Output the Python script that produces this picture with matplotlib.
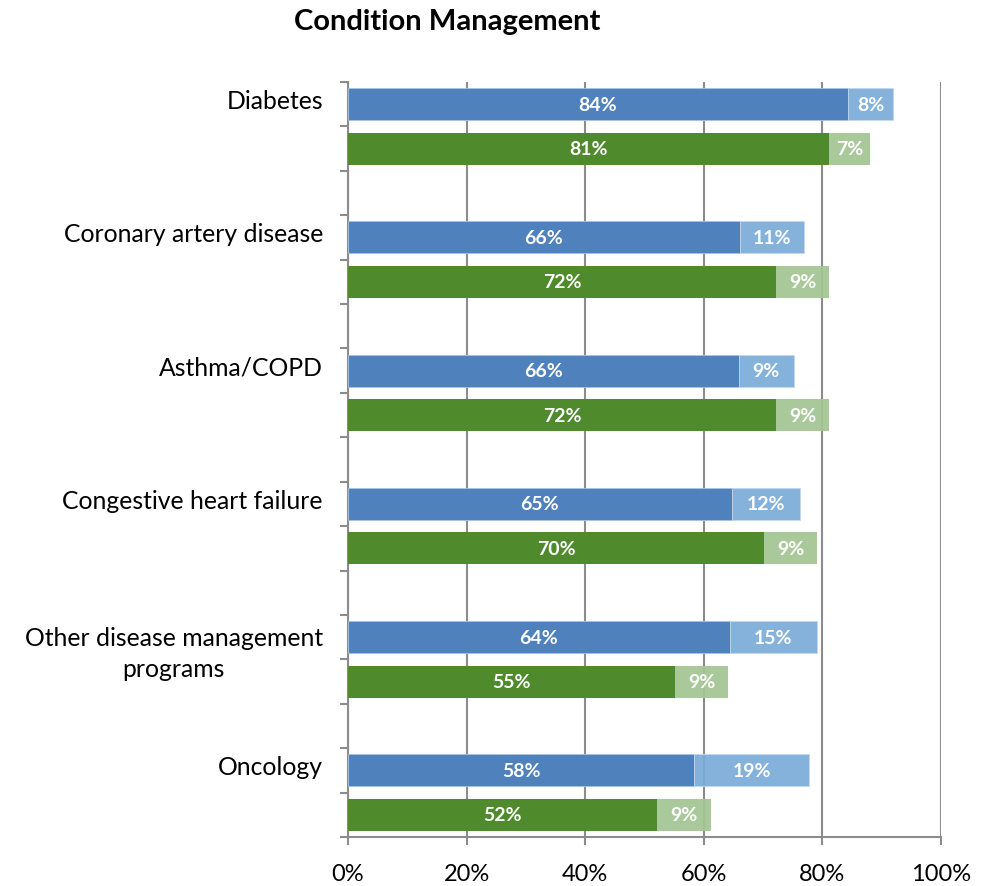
import numpy as np
import matplotlib
matplotlib.use('Agg')
import matplotlib.pyplot as plt

plt.rcParams['font.family'] = ['Lato', 'DejaVu Sans']

#--------------------------------------------------- data (percent)
categories = ['Diabetes', 'Coronary artery disease', 'Asthma/COPD',
              'Congestive heart failure', 'Other disease management\nprograms', 'Oncology']
blue_main  = [84.3, 66.1, 65.9, 64.7, 64.4, 58.4]
blue_extra = [7.6, 10.8, 9.3, 11.6, 14.7, 19.4]
green_main  = [81.1, 72.2, 72.2, 70.2, 55.1, 52.1]
green_extra = [6.9, 8.9, 8.9, 8.9, 9.0, 9.1]
xticks = [0, 20, 40, 60, 80, 100]

c_blue = '#4F81BD'
c_blue2 = '#7AACD8'
c_green = '#4F8A2D'
c_green2 = '#A3C592'
c_axis = '#8C8C8C'

fig = plt.figure(figsize=(9.81, 8.87), dpi=100)
ax = fig.add_axes([348/981, 49/887, 593/981, 755/887])

n = len(categories)
y_blue = np.arange(n)*3 + 0.5
y_green = np.arange(n)*3 + 1.5
h = 0.72

ax.barh(y_blue, blue_main, height=h, color=c_blue, edgecolor='#A9C3E3', linewidth=0.6, zorder=3)
ax.barh(y_blue, blue_extra, left=blue_main, height=h, color=c_blue2, alpha=0.92,
        edgecolor='#C4D8EE', linewidth=0.6, zorder=3)
ax.barh(y_green, green_main, height=h, color=c_green, linewidth=0, zorder=3)
ax.barh(y_green, green_extra, left=green_main, height=h, color=c_green2, alpha=0.92,
        linewidth=0, zorder=3)

# segment labels
for i in range(n):
  for y, a, b in ((y_blue[i], blue_main[i], blue_extra[i]), (y_green[i], green_main[i], green_extra[i])):
    ax.text(a/2, y, '%d%%' % round(a), ha='center', va='center', color='white',
            fontsize=14, fontweight='bold', zorder=5)
    ax.text(a + b/2, y, '%d%%' % round(b), ha='center', va='center', color='white',
            fontsize=14, fontweight='bold', zorder=5)

# category labels next to the blue bar
for i, cat in enumerate(categories):
  yy = y_blue[i] + (0.36 if '\n' in cat else -0.08)
  ax.annotate(cat, xy=(0, yy), xycoords='data', xytext=(-25, 0), textcoords='offset pixels',
              ha='right', va='center', multialignment='center', fontsize=17.8, color='black',
              linespacing=1.4)

ax.set_xlim(0, 100)
ax.set_ylim(3*n - 1, 0)
ax.set_xticks(xticks)
ax.set_xticklabels(['%d%%' % t for t in xticks], fontsize=17)
ax.set_yticks(np.arange(0, 3*n))
ax.set_yticklabels([])
ax.tick_params(axis='y', direction='out', length=6, width=1.5, color=c_axis)
ax.tick_params(axis='x', direction='out', length=6, width=1.5, color=c_axis, pad=13)

ax.grid(axis='x', color=c_axis, linewidth=1.5, zorder=0)
ax.set_axisbelow(True)
for s in ('top', 'right'):
  ax.spines[s].set_visible(False)
for s in ('left', 'bottom'):
  ax.spines[s].set_color(c_axis)
  ax.spines[s].set_linewidth(1.5)

fig.text(447/981, 1 - 22/887, 'Condition Management', ha='center', va='center',
         fontsize=21, fontweight='bold')

fig.savefig('out.png', dpi=100)
